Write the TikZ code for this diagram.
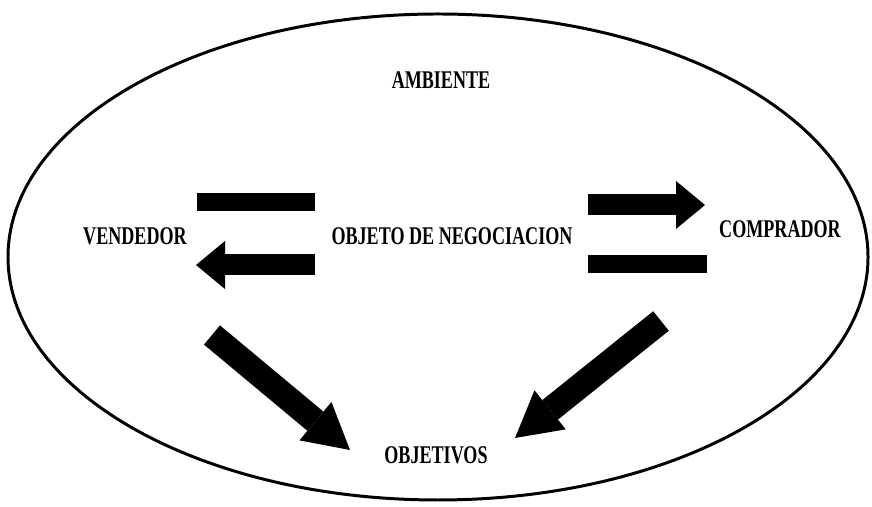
\documentclass[tikz,border=0pt]{standalone}
\usepackage{fontspec}
\setmainfont{Liberation Serif}[FakeStretch=0.71]
\usetikzlibrary{arrows.meta}
\begin{document}
\begin{tikzpicture}[
    word/.style={font=\fontsize{14.5}{16}\selectfont\bfseries, inner sep=1pt},
    bar/.style={line width=0.36cm},
    flat/.style={line width=0.42cm, -{Triangle[length=0.58cm, width=0.96cm, line width=0pt]}},
    slant/.style={line width=0.5cm, -{Triangle[length=0.9cm, width=1cm, line width=0pt]}}
]
\useasboundingbox (0,0) rectangle (17.44,10.14);
% Ambiente
\draw[line width=1.7pt] (8.76,5.0) ellipse [x radius=8.6, y radius=4.86];

% Testi
\node[word] (ambiente) at (8.82,8.54) {AMBIENTE};
\node[word] (vendedor) at (2.70,5.42) {VENDEDOR};
\node[word] (objeto) at (9.04,5.42) {OBJETO DE NEGOCIACION};
\node[word] (comprador) at (15.6,5.56) {COMPRADOR};
\node[word] (objetivos) at (8.72,1.04) {OBJETIVOS};

% Estremi delle frecce
\coordinate (v1) at (3.94,6.10);
\coordinate (v2) at (6.30,6.10);
\coordinate (v3) at (6.30,4.84);
\coordinate (v4) at (3.92,4.84);
\coordinate (c1) at (11.76,6.04);
\coordinate (c2) at (14.10,6.04);
\coordinate (c3) at (11.76,4.86);
\coordinate (c4) at (14.14,4.86);
\coordinate (d1) at (4.24,3.44);
\coordinate (d2) at (7.0,1.14);
\coordinate (d3) at (13.22,3.72);
\coordinate (d4) at (10.3,1.38);

\draw[bar] (v1) -- (v2);
\draw[flat] (v3) -- (v4);
\draw[flat] (c1) -- (c2);
\draw[bar] (c3) -- (c4);
\draw[slant] (d1) -- (d2);
\draw[slant] (d3) -- (d4);
\end{tikzpicture}
\end{document}
